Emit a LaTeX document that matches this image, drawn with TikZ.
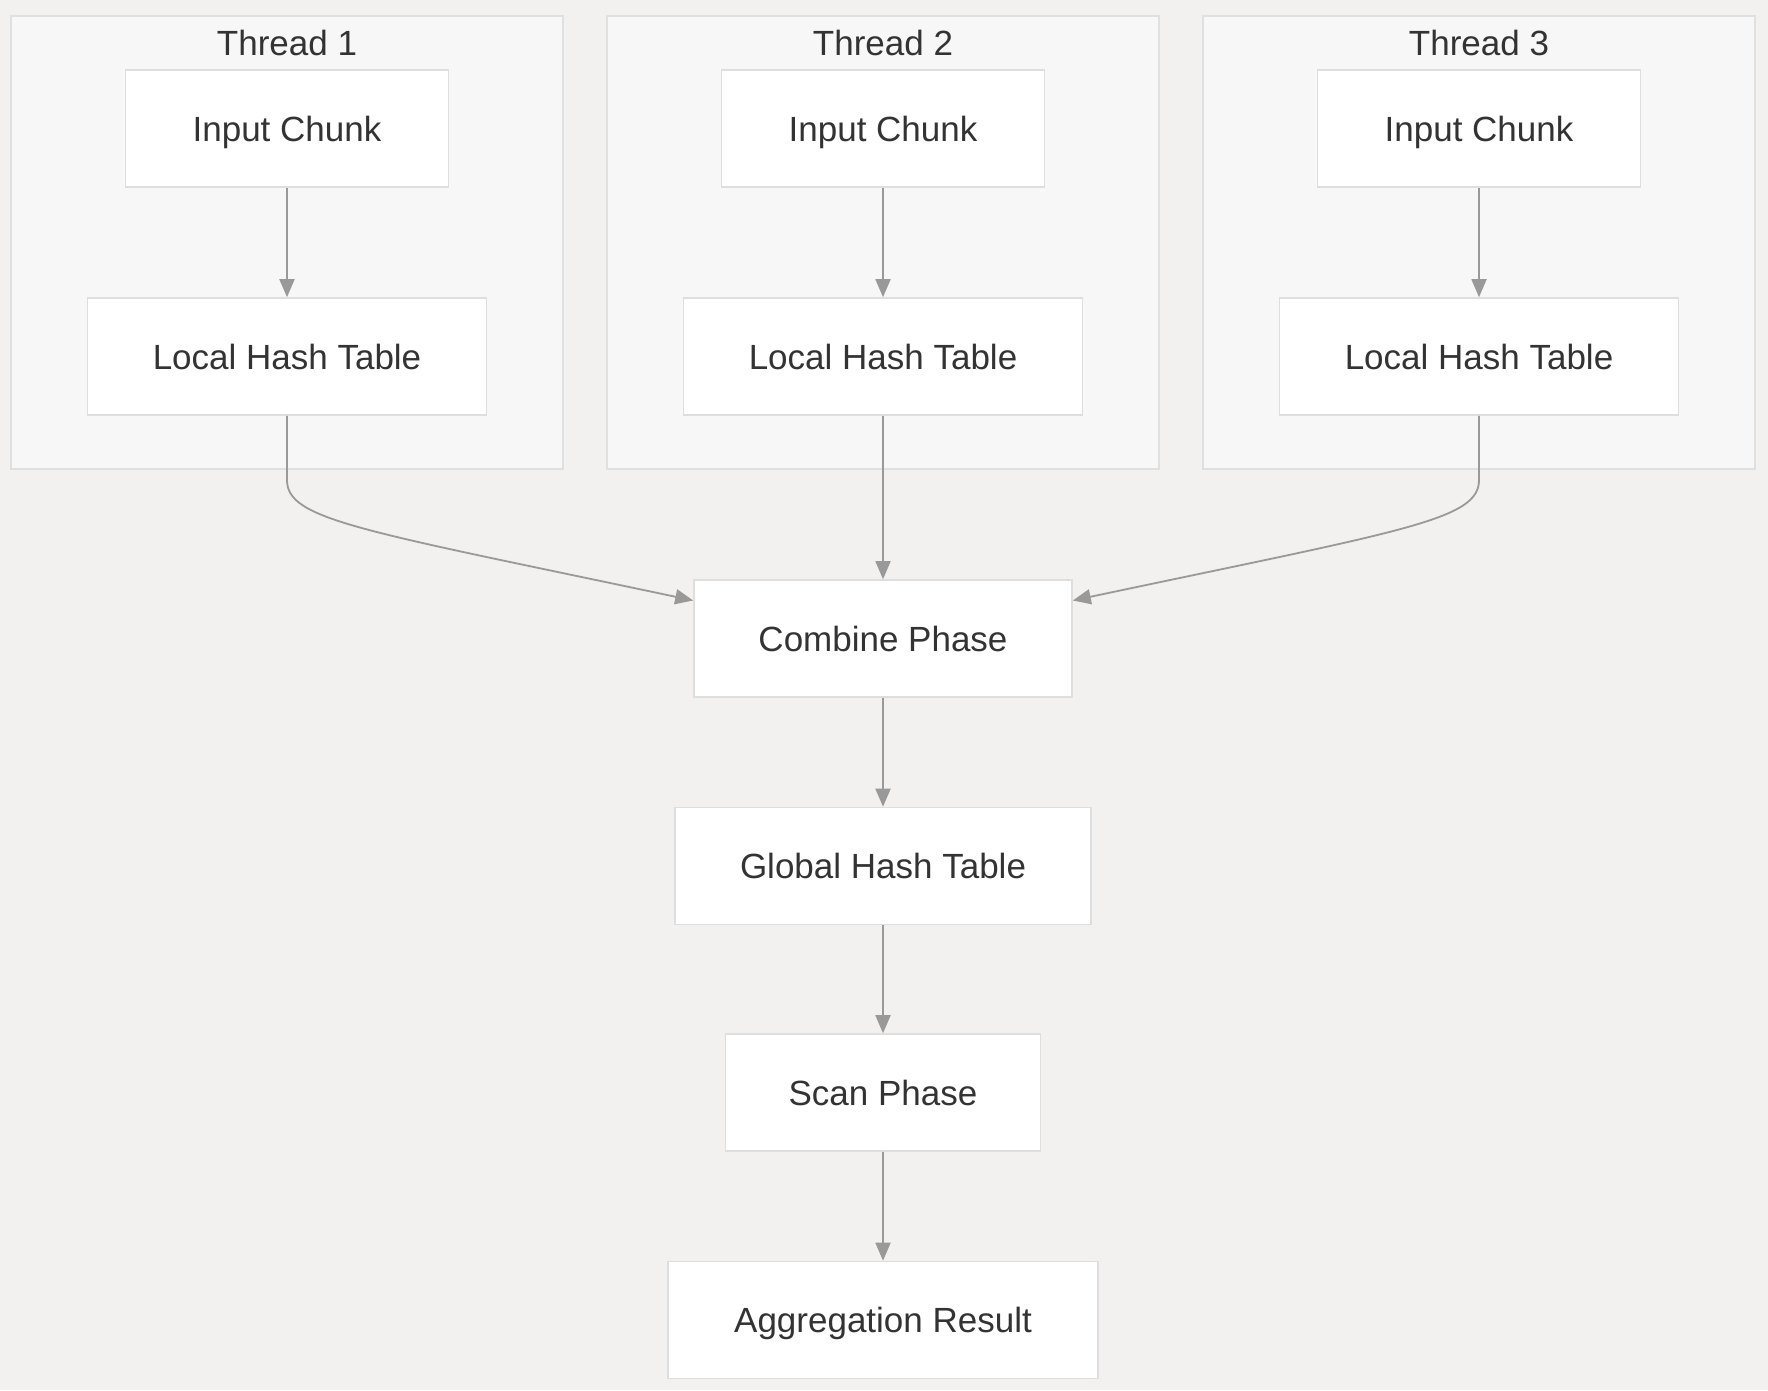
\documentclass[tikz,border=0pt]{standalone}
\usepackage{fontspec}
\setmainfont{Liberation Sans}
\usetikzlibrary{arrows.meta}
\definecolor{bgc}{HTML}{F2F1EF}
\definecolor{clfill}{HTML}{F7F7F7}
\definecolor{clline}{HTML}{E0E0E0}
\definecolor{ndline}{HTML}{DEDEDE}
\definecolor{arr}{HTML}{999999}
\definecolor{txt}{HTML}{333333}
\tikzset{
  cluster/.style={draw=clline, fill=clfill, line width=1.6pt, rectangle, minimum width=552pt, minimum height=453pt, inner sep=0pt},
  ttl/.style={text=txt, font=\fontsize{35}{40}\selectfont, inner sep=0pt},
  box/.style={draw=ndline, fill=white, line width=1.6pt, rectangle, minimum height=117pt, text=txt, font=\fontsize{35}{40}\selectfont, inner sep=0pt, text height=25pt, text depth=0pt},
  flow/.style={draw=arr, line width=1.8pt, -{Triangle[length=18pt,width=15pt]}}
}
\begin{document}
\begin{tikzpicture}[x=1pt,y=-1pt]
\fill[bgc] (0,0) rectangle (1768,1390);
\useasboundingbox (0,0) rectangle (1768,1390);
% clusters
\node[cluster] (c1) at (287,242.5) {};
\node[cluster] (c2) at (883,242.5) {};
\node[cluster] (c3) at (1479,242.5) {};
\node[ttl] (t1) at (287,43) {Thread 1};
\node[ttl] (t2) at (883,43) {Thread 2};
\node[ttl] (t3) at (1479,43) {Thread 3};
% nodes
\node[box, minimum width=323pt] (in1) at (287,128.5) {Input Chunk};
\node[box, minimum width=399pt] (lh1) at (287,356.5) {Local Hash Table};
\node[box, minimum width=323pt] (in2) at (883,128.5) {Input Chunk};
\node[box, minimum width=399pt] (lh2) at (883,356.5) {Local Hash Table};
\node[box, minimum width=323pt] (in3) at (1479,128.5) {Input Chunk};
\node[box, minimum width=399pt] (lh3) at (1479,356.5) {Local Hash Table};
\node[box, minimum width=378pt] (comb) at (883,638.5) {Combine Phase};
\node[box, minimum width=416pt] (glob) at (883,866) {Global Hash Table};
\node[box, minimum width=315pt] (scan) at (883,1092.5) {Scan Phase};
\node[box, minimum width=430pt] (agg) at (883,1320) {Aggregation Result};
% edges
\draw[flow] (in1) -- (lh1);
\draw[flow] (in2) -- (lh2);
\draw[flow] (in3) -- (lh3);
\coordinate (b1) at (287,480);
\coordinate (b3) at (1479,480);
\coordinate (e1) at ([yshift=38pt]comb.west);
\coordinate (e3) at ([yshift=38pt]comb.east);
\draw[flow] (lh1.south) -- (b1) .. controls (287,520) and (360,530) .. (e1);
\draw[flow] (lh3.south) -- (b3) .. controls (1479,520) and (1406,530) .. (e3);
\draw[flow] (lh2) -- (comb);
\draw[flow] (comb) -- (glob);
\draw[flow] (glob) -- (scan);
\draw[flow] (scan) -- (agg);
\end{tikzpicture}
\end{document}
